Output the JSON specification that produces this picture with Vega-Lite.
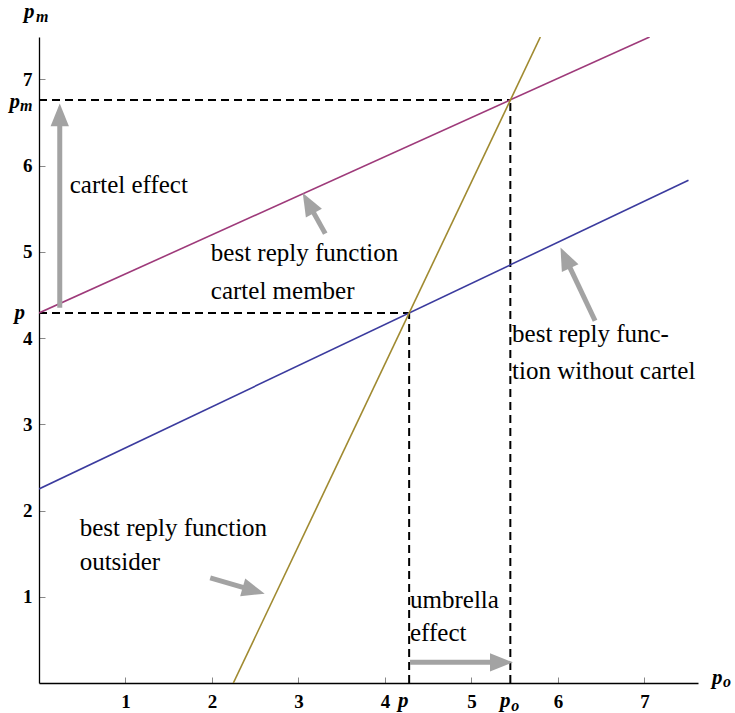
{
  "$schema": "https://vega.github.io/schema/vega-lite/v6.json",
  "autosize": {"type": "none"},
  "width": 659,
  "height": 646,
  "padding": {"left": 39, "top": 37, "right": 37, "bottom": 30},
  "background": "white",
  "config": {"view": {"stroke": null}, "font": "Liberation Serif"},
  "datasets": {
    "curves": [
      {"series": "without cartel", "x": 0, "y": 2.25},
      {"series": "without cartel", "x": 7.51, "y": 5.83},
      {"series": "cartel member", "x": 0, "y": 4.29},
      {"series": "cartel member", "x": 7.06, "y": 7.49},
      {"series": "outsider", "x": 2.247, "y": 0},
      {"series": "outsider", "x": 5.797, "y": 7.49}
    ],
    "dashes": [
      {"x": 0, "y": 4.29, "x2": 4.28, "y2": 4.29},
      {"x": 4.28, "y": 0, "x2": 4.28, "y2": 4.29},
      {"x": 0, "y": 6.76, "x2": 5.45, "y2": 6.76},
      {"x": 5.45, "y": 0, "x2": 5.45, "y2": 6.76}
    ],
    "arrows": [
      {"id": "a1", "xt": 0.24, "yt": 4.35, "xe": 0.24, "ye": 6.58, "xp": 0.24, "yp": 6.72},
      {"id": "a2", "xt": 3.31, "yt": 5.21, "xe": 3.117, "ye": 5.558, "xp": 3.05, "yp": 5.68},
      {"id": "a3", "xt": 6.43, "yt": 4.2, "xe": 6.089, "ye": 4.924, "xp": 6.03, "yp": 5.05},
      {"id": "a4", "xt": 1.98, "yt": 1.22, "xe": 2.477, "ye": 1.074, "xp": 2.61, "yp": 1.035},
      {"id": "a5", "xt": 4.29, "yt": 0.24, "xe": 5.34, "ye": 0.24, "xp": 5.48, "yp": 0.24}
    ],
    "notes": [
      {"text": "cartel effect", "x": 0.355, "y": 5.77},
      {"text": "best reply function", "x": 1.987, "y": 4.98},
      {"text": "cartel member", "x": 1.987, "y": 4.55},
      {"text": "best reply func-", "x": 5.47, "y": 4.05},
      {"text": "tion without cartel", "x": 5.47, "y": 3.62},
      {"text": "best reply function", "x": 0.47, "y": 1.8},
      {"text": "outsider", "x": 0.47, "y": 1.4},
      {"text": "umbrella", "x": 4.29, "y": 0.966},
      {"text": "effect", "x": 4.29, "y": 0.583}
    ]
  },
  "encoding": {
    "x": {"type": "quantitative", "scale": {"domain": [0, 7.62], "nice": false, "zero": false}},
    "y": {"type": "quantitative", "scale": {"domain": [0, 7.49], "nice": false, "zero": false}}
  },
  "layer": [
    {
      "data": {"name": "dashes"},
      "mark": {"type": "rule", "color": "black", "strokeWidth": 2, "strokeDash": [8, 5]},
      "encoding": {
        "x": {"field": "x", "type": "quantitative",
          "axis": {"title": null, "values": [1, 2, 3, 4, 5, 6, 7], "format": "d", "grid": false, "domainColor": "black", "domainWidth": 1.3,
            "tickColor": "#888888", "tickSize": -6, "tickWidth": 1, "labelPadding": 15,
            "labelFont": "Liberation Serif", "labelFontWeight": "bold", "labelFontSize": 19, "labelColor": "black"}},
        "y": {"field": "y", "type": "quantitative",
          "axis": {"title": null, "values": [1, 2, 3, 4, 5, 6, 7], "format": "d", "grid": false, "domainColor": "black", "domainWidth": 1.3,
            "tickColor": "#888888", "tickSize": -6, "tickWidth": 1, "labelPadding": 13,
            "labelFont": "Liberation Serif", "labelFontWeight": "bold", "labelFontSize": 19, "labelColor": "black"}},
        "x2": {"field": "x2"},
        "y2": {"field": "y2"}
      }
    },
    {
      "data": {"name": "curves"},
      "mark": {"type": "line", "strokeWidth": 1.6, "clip": true},
      "encoding": {
        "x": {"field": "x", "type": "quantitative"},
        "y": {"field": "y", "type": "quantitative"},
        "color": {"field": "series", "type": "nominal",
          "scale": {"domain": ["without cartel", "cartel member", "outsider"], "range": ["#3b3b9e", "#9e3a7a", "#a08a30"]},
          "legend": null}
      }
    },
    {
      "data": {"name": "arrows"},
      "mark": {"type": "rule", "color": "#a3a3a3", "strokeWidth": 5, "strokeCap": "butt"},
      "encoding": {
        "x": {"field": "xt", "type": "quantitative"},
        "y": {"field": "yt", "type": "quantitative"},
        "x2": {"field": "xe"},
        "y2": {"field": "ye"}
      }
    },
    {"data": {"name": "arrows"}, "transform": [{"filter": "datum.id == 'a1'"}],
      "mark": {"type": "point", "shape": "M0,0L-0.4,1L0.4,1Z", "filled": true, "color": "#a3a3a3", "opacity": 1, "size": 2100, "angle": 0},
      "encoding": {"x": {"field": "xp", "type": "quantitative"}, "y": {"field": "yp", "type": "quantitative"}}},
    {"data": {"name": "arrows"}, "transform": [{"filter": "datum.id == 'a2'"}],
      "mark": {"type": "point", "shape": "M0,0L-0.4,1L0.4,1Z", "filled": true, "color": "#a3a3a3", "opacity": 1, "size": 2100, "angle": -29},
      "encoding": {"x": {"field": "xp", "type": "quantitative"}, "y": {"field": "yp", "type": "quantitative"}}},
    {"data": {"name": "arrows"}, "transform": [{"filter": "datum.id == 'a3'"}],
      "mark": {"type": "point", "shape": "M0,0L-0.4,1L0.4,1Z", "filled": true, "color": "#a3a3a3", "opacity": 1, "size": 2100, "angle": -25},
      "encoding": {"x": {"field": "xp", "type": "quantitative"}, "y": {"field": "yp", "type": "quantitative"}}},
    {"data": {"name": "arrows"}, "transform": [{"filter": "datum.id == 'a4'"}],
      "mark": {"type": "point", "shape": "M0,0L-0.4,1L0.4,1Z", "filled": true, "color": "#a3a3a3", "opacity": 1, "size": 2100, "angle": 106},
      "encoding": {"x": {"field": "xp", "type": "quantitative"}, "y": {"field": "yp", "type": "quantitative"}}},
    {"data": {"name": "arrows"}, "transform": [{"filter": "datum.id == 'a5'"}],
      "mark": {"type": "point", "shape": "M0,0L-0.4,1L0.4,1Z", "filled": true, "color": "#a3a3a3", "opacity": 1, "size": 2100, "angle": 90},
      "encoding": {"x": {"field": "xp", "type": "quantitative"}, "y": {"field": "yp", "type": "quantitative"}}},
    {
      "data": {"name": "notes"},
      "mark": {"type": "text", "align": "left", "baseline": "middle", "font": "Liberation Serif", "fontSize": 25, "color": "black"},
      "encoding": {
        "x": {"field": "x", "type": "quantitative"},
        "y": {"field": "y", "type": "quantitative"},
        "text": {"field": "text"}
      }
    },
    {"data": {"values": [{"t": "p", "x": 0, "y": 4.29}]},
      "mark": {"type": "text", "align": "right", "baseline": "alphabetic", "font": "Liberation Serif", "fontStyle": "italic", "fontWeight": "bold", "fontSize": 21, "dx": -14, "dy": 6, "color": "black"},
      "encoding": {"x": {"field": "x", "type": "quantitative"}, "y": {"field": "y", "type": "quantitative"}, "text": {"field": "t"}}},
    {"data": {"values": [{"t": "p", "x": 0, "y": 6.76}]},
      "mark": {"type": "text", "align": "right", "baseline": "alphabetic", "font": "Liberation Serif", "fontStyle": "italic", "fontWeight": "bold", "fontSize": 21, "dx": -19, "dy": 8, "color": "black"},
      "encoding": {"x": {"field": "x", "type": "quantitative"}, "y": {"field": "y", "type": "quantitative"}, "text": {"field": "t"}}},
    {"data": {"values": [{"t": "m", "x": 0, "y": 6.76}]},
      "mark": {"type": "text", "align": "left", "baseline": "alphabetic", "font": "Liberation Serif", "fontStyle": "italic", "fontWeight": "bold", "fontSize": 16, "dx": -19, "dy": 11, "color": "black"},
      "encoding": {"x": {"field": "x", "type": "quantitative"}, "y": {"field": "y", "type": "quantitative"}, "text": {"field": "t"}}},
    {"data": {"values": [{"t": "p", "x": 0, "y": 7.49}]},
      "mark": {"type": "text", "align": "left", "baseline": "alphabetic", "font": "Liberation Serif", "fontStyle": "italic", "fontWeight": "bold", "fontSize": 21, "dx": -15, "dy": -19, "color": "black"},
      "encoding": {"x": {"field": "x", "type": "quantitative"}, "y": {"field": "y", "type": "quantitative"}, "text": {"field": "t"}}},
    {"data": {"values": [{"t": "m", "x": 0, "y": 7.49}]},
      "mark": {"type": "text", "align": "left", "baseline": "alphabetic", "font": "Liberation Serif", "fontStyle": "italic", "fontWeight": "bold", "fontSize": 16, "dx": -3, "dy": -15, "color": "black"},
      "encoding": {"x": {"field": "x", "type": "quantitative"}, "y": {"field": "y", "type": "quantitative"}, "text": {"field": "t"}}},
    {"data": {"values": [{"t": "p", "x": 4.28, "y": 0}]},
      "mark": {"type": "text", "align": "center", "baseline": "alphabetic", "font": "Liberation Serif", "fontStyle": "italic", "fontWeight": "bold", "fontSize": 21, "dx": -6, "dy": 24, "color": "black"},
      "encoding": {"x": {"field": "x", "type": "quantitative"}, "y": {"field": "y", "type": "quantitative"}, "text": {"field": "t"}}},
    {"data": {"values": [{"t": "p", "x": 5.45, "y": 0}]},
      "mark": {"type": "text", "align": "center", "baseline": "alphabetic", "font": "Liberation Serif", "fontStyle": "italic", "fontWeight": "bold", "fontSize": 21, "dx": -5, "dy": 24, "color": "black"},
      "encoding": {"x": {"field": "x", "type": "quantitative"}, "y": {"field": "y", "type": "quantitative"}, "text": {"field": "t"}}},
    {"data": {"values": [{"t": "o", "x": 5.45, "y": 0}]},
      "mark": {"type": "text", "align": "left", "baseline": "alphabetic", "font": "Liberation Serif", "fontStyle": "italic", "fontWeight": "bold", "fontSize": 16, "dx": 1, "dy": 28, "color": "black"},
      "encoding": {"x": {"field": "x", "type": "quantitative"}, "y": {"field": "y", "type": "quantitative"}, "text": {"field": "t"}}},
    {"data": {"values": [{"t": "p", "x": 7.62, "y": 0}]},
      "mark": {"type": "text", "align": "left", "baseline": "alphabetic", "font": "Liberation Serif", "fontStyle": "italic", "fontWeight": "bold", "fontSize": 21, "dx": 14, "dy": 1, "color": "black"},
      "encoding": {"x": {"field": "x", "type": "quantitative"}, "y": {"field": "y", "type": "quantitative"}, "text": {"field": "t"}}},
    {"data": {"values": [{"t": "o", "x": 7.62, "y": 0}]},
      "mark": {"type": "text", "align": "left", "baseline": "alphabetic", "font": "Liberation Serif", "fontStyle": "italic", "fontWeight": "bold", "fontSize": 16, "dx": 25, "dy": 4, "color": "black"},
      "encoding": {"x": {"field": "x", "type": "quantitative"}, "y": {"field": "y", "type": "quantitative"}, "text": {"field": "t"}}}
  ]
}
